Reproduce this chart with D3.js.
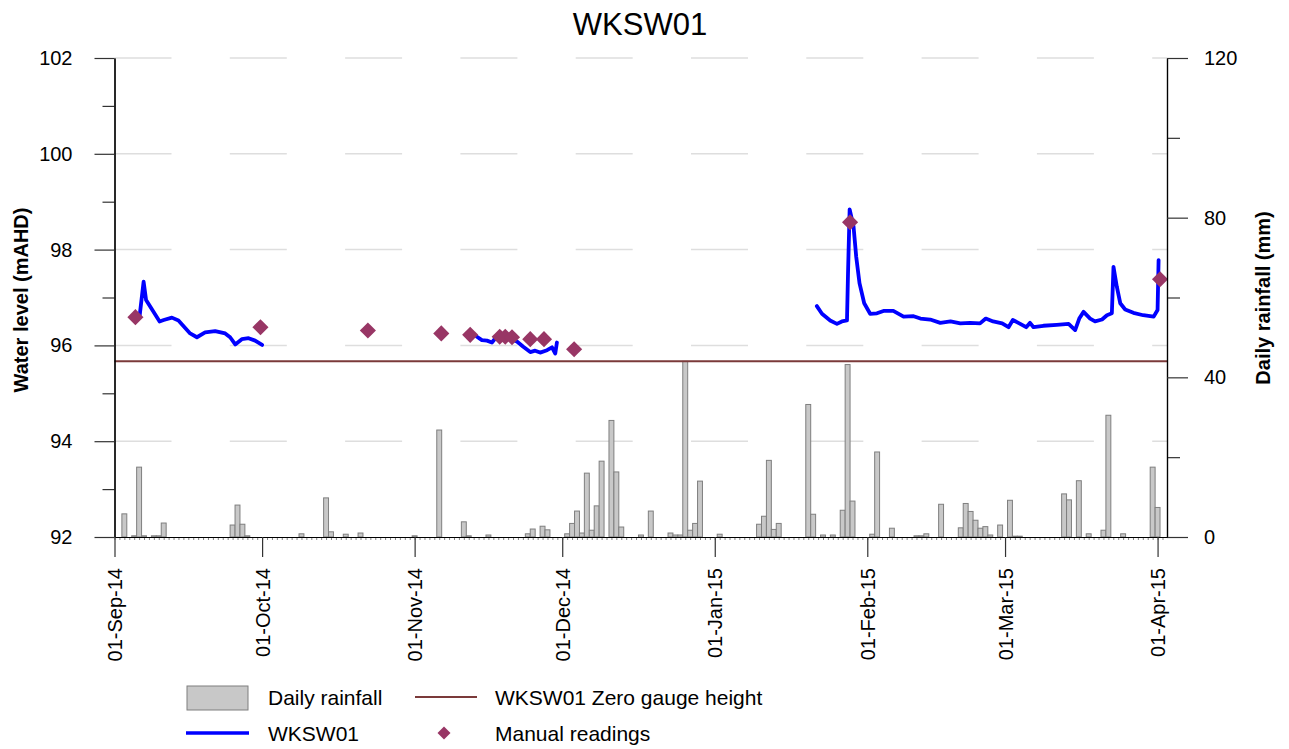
<!DOCTYPE html>
<html><head><meta charset="utf-8">
<script src="https://cdn.jsdelivr.net/npm/d3@7"></script>
<style>
body{margin:0;background:#fff}
text{font-family:"Liberation Sans",Arial,sans-serif;fill:#000}
</style>
</head><body>
<svg id="c" width="1289" height="749"></svg>
<script>
// ---------- data ----------
const rainDates = [
"2014-09-03","2014-09-05","2014-09-06","2014-09-07","2014-09-09","2014-09-10","2014-09-11",
"2014-09-25","2014-09-26","2014-09-27","2014-09-28","2014-10-09","2014-10-14","2014-10-15",
"2014-10-18","2014-10-21","2014-11-01","2014-11-06","2014-11-11","2014-11-12","2014-11-16",
"2014-11-24","2014-11-25","2014-11-27","2014-11-28","2014-12-02","2014-12-03","2014-12-04",
"2014-12-05","2014-12-06","2014-12-07","2014-12-08","2014-12-09","2014-12-11","2014-12-12",
"2014-12-13","2014-12-17","2014-12-19","2014-12-23","2014-12-24","2014-12-25","2014-12-26",
"2014-12-27","2014-12-28","2014-12-29","2015-01-02","2015-01-10","2015-01-11","2015-01-12",
"2015-01-13","2015-01-14","2015-01-20","2015-01-21","2015-01-23","2015-01-25","2015-01-27",
"2015-01-28","2015-01-29","2015-02-02","2015-02-03","2015-02-06","2015-02-11","2015-02-12",
"2015-02-13","2015-02-16","2015-02-20","2015-02-21","2015-02-22","2015-02-23","2015-02-24",
"2015-02-25","2015-02-26","2015-02-28","2015-03-02","2015-03-03","2015-03-04","2015-03-13",
"2015-03-14","2015-03-16","2015-03-18","2015-03-21","2015-03-22","2015-03-25","2015-03-31",
"2015-04-01"];
const rainValues = [
5.8,0.3,17.5,0.3,0.3,0.3,3.5,
3.0,8.0,3.2,0.3,0.8,9.8,1.3,
0.7,1.0,0.3,26.8,3.8,0.3,0.5,
0.8,2.0,2.7,1.8,0.8,3.4,6.5,
1.0,16.0,1.7,7.8,19.0,29.2,16.3,
2.5,0.5,6.5,1.0,0.5,0.5,44.0,
1.7,3.4,14.0,0.7,3.2,5.2,19.2,
1.9,3.4,33.2,5.7,0.5,0.5,6.7,
43.2,9.0,0.7,21.3,2.2,0.3,0.3,
0.8,8.2,2.3,8.4,6.4,4.2,2.2,
2.6,0.5,3.0,9.2,0.2,0.2,10.8,
9.3,14.1,0.8,1.7,30.5,0.8,17.5,
7.4];

// continuous logger record (null = gap in record)
const levelTimes = [
"2014-09-06 03:00","2014-09-06 22:00","2014-09-07 10:00","2014-09-08 06:00","2014-09-10 04:00",
"2014-09-11 00:00","2014-09-12 16:00","2014-09-14 00:00","2014-09-16 09:00","2014-09-17 18:00",
"2014-09-19 10:00","2014-09-21 11:00","2014-09-23 12:00","2014-09-24 12:00","2014-09-25 13:00",
"2014-09-26 21:00","2014-09-28 06:00","2014-09-29 14:00","2014-10-01 00:00",
null,
"2014-11-13 16:00","2014-11-14 16:00","2014-11-15 17:00","2014-11-16 17:00","2014-11-17 10:00",
"2014-11-18 17:00","2014-11-20 19:00","2014-11-21 19:00","2014-11-23 02:00","2014-11-24 12:00",
"2014-11-25 12:00","2014-11-26 12:00","2014-11-27 22:00","2014-11-28 22:00","2014-11-29 14:00",
"2014-11-29 22:00",
null,
"2015-01-21 18:00","2015-01-22 19:00","2015-01-24 11:00","2015-01-25 20:00","2015-01-26 20:00",
"2015-01-27 21:00","2015-01-28 02:00","2015-01-28 10:00","2015-01-29 05:00","2015-01-29 18:00",
"2015-01-30 10:00","2015-01-31 09:00","2015-02-01 14:00","2015-02-02 23:00","2015-02-04 07:00",
"2015-02-06 07:00","2015-02-08 09:00","2015-02-10 10:00","2015-02-11 19:00","2015-02-13 19:00",
"2015-02-15 20:00","2015-02-17 22:00","2015-02-19 22:00","2015-02-21 22:00","2015-02-23 22:00",
"2015-02-25 02:00","2015-02-26 14:00","2015-02-28 10:00","2015-03-01 17:00","2015-03-02 14:00",
"2015-03-04 02:00","2015-03-05 07:00","2015-03-06 02:00","2015-03-06 19:00","2015-03-08 19:00",
"2015-03-11 12:00","2015-03-13 22:00","2015-03-15 06:00","2015-03-16 02:00","2015-03-16 23:00",
"2015-03-18 07:00","2015-03-19 07:00","2015-03-20 17:00","2015-03-21 17:00","2015-03-22 17:00",
"2015-03-23 01:00","2015-03-23 17:00","2015-03-24 10:00","2015-03-25 10:00","2015-03-27 02:00",
"2015-03-29 02:00","2015-03-31 05:00","2015-04-01 00:00","2015-04-01 05:00"];
const levelValues = [
96.63,97.33,96.95,96.81,96.50,
96.53,96.58,96.52,96.25,96.17,
96.27,96.30,96.25,96.17,96.02,
96.13,96.15,96.10,96.01,
null,
96.18,96.11,96.10,96.06,96.15,
96.17,96.13,96.08,95.97,95.86,
95.89,95.85,95.90,95.96,95.83,
96.06,
null,
96.82,96.66,96.52,96.45,96.50,
96.52,97.50,98.84,98.48,97.85,
97.30,96.88,96.66,96.67,96.72,
96.72,96.60,96.61,96.56,96.54,
96.47,96.50,96.46,96.47,96.46,
96.56,96.50,96.46,96.38,96.53,
96.45,96.38,96.47,96.38,96.41,
96.43,96.45,96.32,96.56,96.70,
96.56,96.50,96.54,96.63,96.67,
97.64,97.23,96.88,96.75,96.68,
96.63,96.60,96.74,97.78];

const manualTimes = [
"2014-09-05 06:00","2014-09-30 16:00","2014-10-22 12:00","2014-11-06 10:00","2014-11-12 07:00",
"2014-11-18 07:00","2014-11-19 10:00","2014-11-20 19:00","2014-11-24 12:00","2014-11-27 07:00",
"2014-12-03 10:00","2015-01-28 12:00","2015-04-01 12:00"];
const manualValues = [96.59,96.38,96.31,96.25,96.22,96.18,96.18,96.17,96.13,96.13,95.92,98.57,97.38];

const zeroGaugeHeight = 95.67;
const levelTicks = [92,94,96,98,100,102];
const levelMinorTicks = [93,95,97,99,101];
const rainTicks = [0,40,80,120];
const rainMinorTicks = [20,60,100];
const titleText = "WKSW01";

// ---------- drawing ----------
const svg = d3.select("#c");
const pDay = d3.timeParse("%Y-%m-%d");
const pTime = d3.timeParse("%Y-%m-%d %H:%M");

const L = 114.5, R = 1167, T = 58, B = 537;
const x = d3.scaleTime()
  .domain([pDay("2014-09-01"), pTime("2015-04-02 22:00")])
  .range([L, R]);
const yL = d3.scaleLinear().domain([92, 102]).range([B, T]);
const yR = d3.scaleLinear().domain([0, 120]).range([B, T]);

// gridlines
svg.append("g").selectAll("line").data(levelTicks.filter(v => v > 92)).join("line")
  .attr("x1", L).attr("x2", R)
  .attr("y1", d => yL(d)).attr("y2", d => yL(d))
  .attr("stroke", "#dedede").attr("stroke-width", 1.5)
  .attr("stroke-dasharray", "57,58.3");

// rainfall bars
const rain = rainDates.map((d, i) => ({t: pDay(d), v: rainValues[i]}));
svg.append("g").selectAll("rect").data(rain).join("rect")
  .attr("x", d => { const w = x(d3.timeDay.offset(d.t, 1)) - x(d.t); return x(d.t) - w / 2; })
  .attr("width", d => x(d3.timeDay.offset(d.t, 1)) - x(d.t))
  .attr("y", d => yR(d.v))
  .attr("height", d => yR(0) - yR(d.v))
  .attr("fill", "#c8c8c8").attr("stroke", "#7f7f7f").attr("stroke-width", 1);

// zero gauge height line
svg.append("line")
  .attr("x1", L).attr("x2", R)
  .attr("y1", yL(zeroGaugeHeight)).attr("y2", yL(zeroGaugeHeight))
  .attr("stroke", "#7b3a3a").attr("stroke-width", 2);

// water level line
const level = levelTimes.map((t, i) => ({t: t ? pTime(t) : null, v: levelValues[i]}));
svg.append("path").datum(level)
  .attr("fill", "none").attr("stroke", "#0000ff").attr("stroke-width", 3.8)
  .attr("stroke-linejoin", "round").attr("stroke-linecap", "round")
  .attr("d", d3.line().defined(d => d.t !== null && d.v !== null)
    .x(d => x(d.t)).y(d => yL(d.v)));

// manual readings
const diamond = d3.symbol().type(d3.symbolSquare).size(130);
const manual = manualTimes.map((t, i) => ({t: pTime(t), v: manualValues[i]}));
svg.append("g").selectAll("path").data(manual).join("path")
  .attr("d", diamond)
  .attr("transform", d => `translate(${x(d.t)},${yL(d.v)}) rotate(45)`)
  .attr("fill", "#983665");

// axes
const axCol = "#333";
function styleAxis(g) {
  g.selectAll(".domain").attr("stroke", "#000").attr("stroke-width", 1.2);
  g.selectAll(".tick line").attr("stroke", axCol).attr("stroke-width", 1.2);
  g.selectAll("text").attr("font-size", 20).attr("fill", "#000")
    .attr("font-family", '"Liberation Sans",Arial,sans-serif');
}

// left axis
svg.append("g").attr("transform", `translate(${L},0)`)
  .call(d3.axisLeft(yL).tickValues(levelMinorTicks).tickSize(12).tickSizeOuter(0).tickFormat(""))
  .call(styleAxis);
svg.append("g").attr("transform", `translate(${L},0)`)
  .call(d3.axisLeft(yL).tickValues(levelTicks).tickSize(20).tickSizeOuter(0).tickPadding(22).tickFormat(d3.format("d")))
  .call(styleAxis);

// right axis
svg.append("g").attr("transform", `translate(${R},0)`)
  .call(d3.axisRight(yR).tickValues(rainMinorTicks).tickSize(13).tickSizeOuter(0).tickFormat(""))
  .call(styleAxis);
svg.append("g").attr("transform", `translate(${R},0)`)
  .call(d3.axisRight(yR).tickValues(rainTicks).tickSize(21).tickSizeOuter(0).tickPadding(16).tickFormat(d3.format("d")))
  .call(styleAxis);

// bottom axis: daily minor ticks + monthly major ticks
svg.append("g").attr("transform", `translate(0,${B})`)
  .call(d3.axisBottom(x).ticks(d3.timeDay.every(1)).tickSize(3).tickSizeOuter(0).tickFormat(""))
  .call(styleAxis)
  .call(g => g.selectAll(".tick line").attr("stroke-width", 0.8).attr("stroke", "#666"));
const xg = svg.append("g").attr("transform", `translate(0,${B})`)
  .call(d3.axisBottom(x).ticks(d3.timeMonth.every(1)).tickSize(20).tickSizeOuter(0)
    .tickFormat(d3.timeFormat("%d-%b-%y")))
  .call(styleAxis);
xg.selectAll(".tick text")
  .attr("transform", "rotate(-90)")
  .attr("text-anchor", "end")
  .attr("x", -31).attr("y", 0).attr("dy", "0.35em");

// title
svg.append("text").attr("x", 640).attr("y", 35).attr("text-anchor", "middle")
  .attr("font-size", 31).text(titleText);

// axis titles
svg.append("text").attr("transform", "translate(28,300) rotate(-90)")
  .attr("text-anchor", "middle").attr("font-size", 20).attr("font-weight", "bold")
  .text("Water level (mAHD)");
svg.append("text").attr("transform", "translate(1270,298) rotate(-90)")
  .attr("text-anchor", "middle").attr("font-size", 20).attr("font-weight", "bold")
  .text("Daily rainfall (mm)");

// legend
const lg = svg.append("g");
lg.append("rect").attr("x", 187).attr("y", 686).attr("width", 61).attr("height", 24)
  .attr("fill", "#c8c8c8").attr("stroke", "#7f7f7f");
lg.append("text").attr("x", 268).attr("y", 705).attr("font-size", 21).text("Daily rainfall");
lg.append("line").attr("x1", 415).attr("x2", 477).attr("y1", 697).attr("y2", 697)
  .attr("stroke", "#7b3a3a").attr("stroke-width", 2);
lg.append("text").attr("x", 495).attr("y", 705).attr("font-size", 21).text("WKSW01 Zero gauge height");
lg.append("line").attr("x1", 186).attr("x2", 249).attr("y1", 733).attr("y2", 733)
  .attr("stroke", "#0000ff").attr("stroke-width", 3.5);
lg.append("text").attr("x", 268).attr("y", 741).attr("font-size", 21).text("WKSW01");
lg.append("path").attr("d", d3.symbol().type(d3.symbolSquare).size(85))
  .attr("transform", "translate(444,733) rotate(45)").attr("fill", "#983665");
lg.append("text").attr("x", 495).attr("y", 741).attr("font-size", 21).text("Manual readings");
</script>
</body></html>
